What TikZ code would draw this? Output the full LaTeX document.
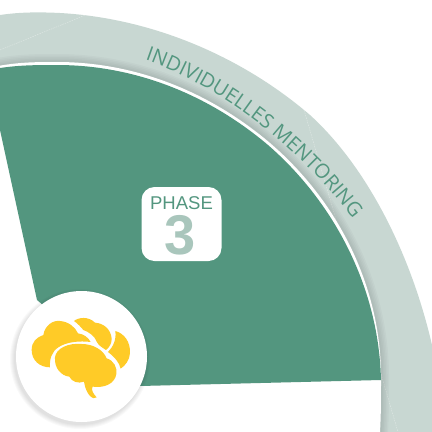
\documentclass[tikz,border=0pt]{standalone}
\usepackage{fontspec}
\setmainfont{Open Sans}
\newfontfamily\heros{Liberation Sans}
\usetikzlibrary{decorations.text}
\definecolor{band}{HTML}{C8D7D2}
\definecolor{sector}{HTML}{53967F}
\definecolor{numc}{HTML}{A9C6BC}
\definecolor{brain}{HTML}{FFCB27}
\tikzset{
  brainpart/.style={fill=brain,draw=none},
  seam/.style={draw=white,opacity=.45,line width=.4pt,dash pattern=on 1.5pt off 1pt},
  phasebox/.style={fill=white,rounded corners=13pt,minimum width=80pt,minimum height=74pt,draw=none,inner sep=0pt},
}
\def\innerarc{(-2,66) .. controls (20,62) and (38,62) .. (57,62) .. controls (130,62) and (205,88) .. (270,143) .. controls (340,203) and (382,290) .. (381,380) .. controls (381,400) and (381,415) .. (380,432)}
\begin{document}
\begin{tikzpicture}[x=1pt,y=-1pt]
\useasboundingbox (0,0) rectangle (432,432);
% outer band
\fill[band] (0,15) .. controls (20,12) and (40,12) .. (60,13) .. controls (150,18) and (240,55) .. (310,115) .. controls (365,165) and (410,250) .. (432,345) -- (432,432) -- (0,432) -- cycle;
% seams
\path[seam,draw] (0,50) -- (88,14);
\path[seam,draw] (302,103) -- (398,432);
% soft shadow under the ring edge
\foreach \w in {16,13,10,7,4}{
  \draw[black,opacity=.022,line width=\w pt] \innerarc;
}
% white area inside the ring
\fill[white] (-2,66) .. controls (20,62) and (38,62) .. (57,62) .. controls (130,62) and (205,88) .. (270,143) .. controls (340,203) and (382,290) .. (381,380) .. controls (381,400) and (381,415) .. (380,432) -- (0,432) -- cycle;
% sector
\fill[sector] (0,68) .. controls (20,65) and (38,65) .. (57,65) .. controls (130,65) and (204,91) .. (268,145) .. controls (337,205) and (379,291) .. (381,380) -- (140,386) -- (37,300) -- (0,130) -- cycle;
% phase box
\node[phasebox] (box) at (181.5,224) {};
\node[font=\heros\fontsize{18.5}{18.5}\selectfont,text=sector,inner sep=0pt] (phase) at (181.5,203.5) {PHASE};
\node[font=\heros\bfseries\fontsize{56}{56}\selectfont,text=numc,inner sep=0pt] (num) at (180.5,235) {3};
% curved label
\path[decorate,decoration={text along path,text align={left},text={|\fontsize{20}{20}\selectfont\color{sector}|INDIVIDUELLES MENTORING}}]
  (145,60) .. controls (218,85) and (310,150) .. (375,250);
% badge
\foreach \r in {70,69,68,67,66}{
  \fill[black,opacity=.025] (80,359) circle (\r pt);
}
\node[circle,fill=white,minimum size=131pt,inner sep=0pt] (badge) at (81.5,356.5) {};
% brain
\begin{scope}[shift={(0,270)},x=.3333pt,y=-.3333pt]
\fill[brainpart] (150,292) .. controls (120,292) and (95,272) .. (95,240) .. controls (95,215) and (110,202) .. (130,195) .. controls (135,165) and (160,150) .. (180,153) .. controls (205,155) and (225,170) .. (234,190) .. controls (252,192) and (265,203) .. (272,216) .. controls (240,212) and (200,215) .. (175,232) .. controls (155,245) and (148,268) .. (150,292) -- cycle;
\fill[brainpart] (222,153) .. controls (235,142) and (265,138) .. (285,158) .. controls (312,160) and (332,178) .. (335,205) .. controls (336,220) and (328,232) .. (318,240) .. controls (305,232) and (295,225) .. (290,215) .. controls (285,198) and (265,185) .. (250,180) .. controls (242,170) and (232,160) .. (222,153) -- cycle;
\fill[brainpart] (346,183) .. controls (372,190) and (392,215) .. (390,250) .. controls (388,270) and (378,285) .. (362,296) .. controls (358,278) and (345,262) .. (324,246) .. controls (338,232) and (350,210) .. (346,183) -- cycle;
\fill[brainpart] (165,262) .. controls (168,235) and (205,218) .. (245,222) .. controls (280,222) and (310,240) .. (320,265) .. controls (342,272) and (352,292) .. (349,312) .. controls (345,340) and (315,355) .. (278,350) .. controls (272,358) and (280,372) .. (290,382) .. controls (280,392) and (258,375) .. (252,335) .. controls (235,342) and (215,335) .. (208,320) .. controls (185,318) and (162,295) .. (165,262) -- cycle;
\end{scope}
\end{tikzpicture}
\end{document}
